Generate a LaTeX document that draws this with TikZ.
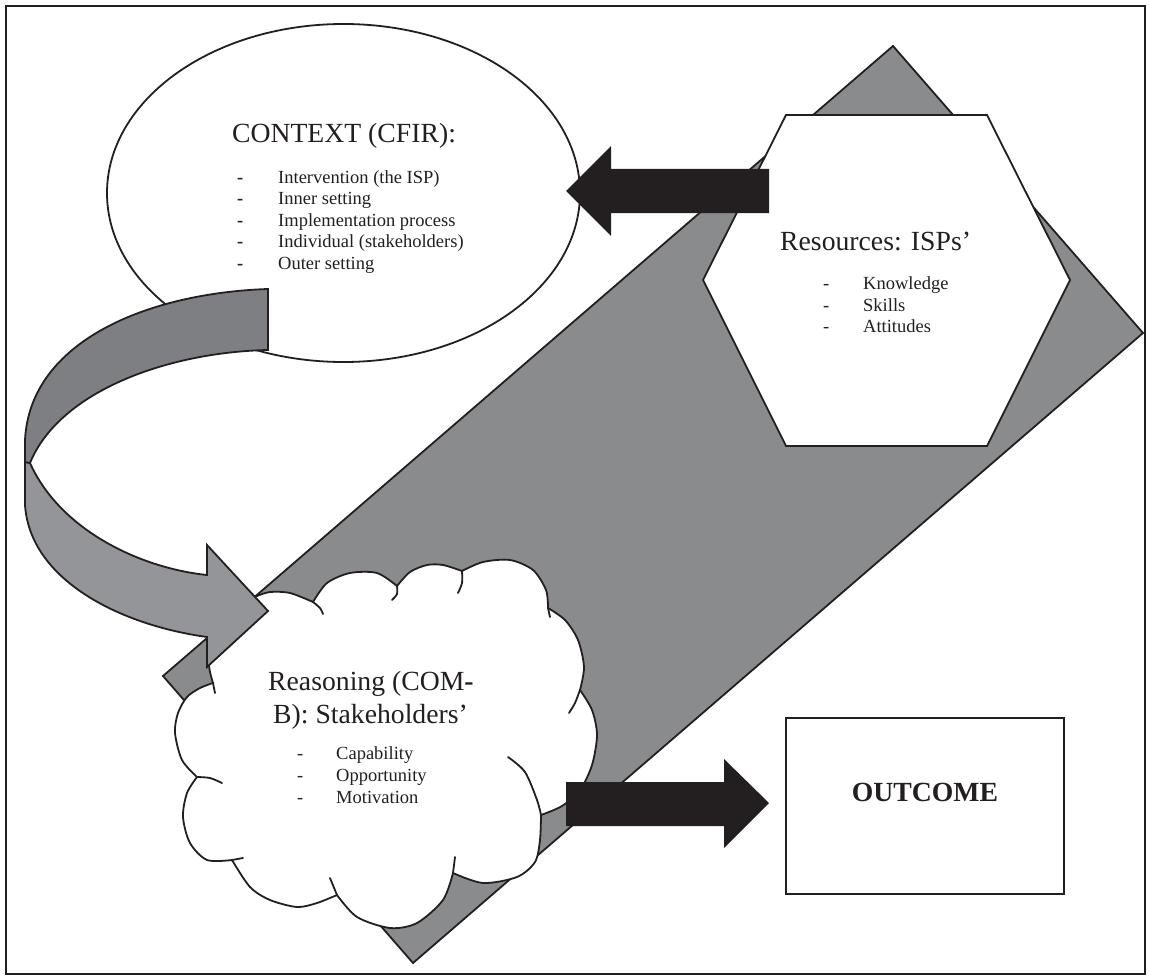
\documentclass[tikz,border=0pt]{standalone}
\usepackage{fontspec}
\setmainfont{Liberation Serif}
\definecolor{dgray}{HTML}{8A8B8D}
\definecolor{adark}{HTML}{7E7F83}
\definecolor{alight}{HTML}{939598}
\definecolor{blk}{HTML}{231F20}
\begin{document}
\begin{tikzpicture}[x=1pt,y=-1pt,line join=miter,
  outl/.style={draw=blk,line width=1.8pt},
  tail/.style={draw=blk,line width=1.8pt,line cap=round},
  headtxt/.style={font=\fontsize{27.7}{33}\selectfont,anchor=base west,inner sep=0pt,text=blk},
  itemtxt/.style={font=\fontsize{18.5}{22}\selectfont,anchor=base west,inner sep=0pt,text=blk},
  blockarrow/.style={fill=blk}]
\fill[white] (0,0) rectangle (1149,979);
\useasboundingbox (0,0) rectangle (1149,979);
\draw[blk,line width=1.5pt] (6,6) rectangle (1145,974);
% grey diamond
\draw[outl,fill=dgray] (893,46) -- (1143,333) -- (413,963) -- (163,676) -- cycle;
% hexagon
\draw[outl,fill=white] (786,115) -- (987,115) -- (1070,280) -- (987,446) -- (786,446) -- (703,280) -- cycle;
% ellipse
\draw[outl,fill=white] (343.5,193) ellipse [x radius=236.5pt,y radius=169pt];
% cloud
\draw[outl,fill=white]
  plot[smooth] coordinates {(257,596) (270,592) (290,593) (313,602)}
  -- plot[smooth] coordinates {(313,602) (327,583) (350,573) (377,573) (397,586)}
  -- plot[smooth] coordinates {(397,586) (410,572) (427,565) (443,565) (462,571)}
  -- plot[smooth] coordinates {(462,571) (483,562) (510,560) (533,570) (546,590) (548,608)}
  -- plot[smooth] coordinates {(548,608) (565,620) (578,640) (584,667) (580,690)}
  -- plot[smooth] coordinates {(580,690) (592,710) (597,735) (592,765) (580,790) (562,806) (541,815)}
  -- plot[smooth] coordinates {(541,815) (540,840) (535,862) (517,877) (483,883) (453,873)}
  -- plot[smooth] coordinates {(453,873) (443,900) (417,923) (390,928) (357,917) (337,895)}
  -- plot[smooth] coordinates {(337,895) (317,903) (297,907) (270,900) (250,887) (232,860)}
  -- plot[smooth] coordinates {(232,860) (207,860) (190,843) (183,817) (187,793) (197,777)}
  -- plot[smooth] coordinates {(197,777) (182,760) (175,733) (178,713) (187,697) (200,688) (213,683)}
  -- plot[smooth] coordinates {(213,683) (209,665) (212,640) (225,615) (240,600) (257,596)}
  -- cycle;
\draw[tail] plot[smooth] coordinates {(313,602) (320,608) (323,614)};
\draw[tail] plot[smooth] coordinates {(397,586) (397,594) (392,600)};
\draw[tail] plot[smooth] coordinates {(462,571) (462,583) (458,593)};
\draw[tail] plot[smooth] coordinates {(548,608) (550,617)};
\draw[tail] plot[smooth] coordinates {(580,690) (575,703) (569,713)};
\draw[tail] plot[smooth] coordinates {(508,757) (525,772) (537,800) (541,815)};
\draw[tail] plot[smooth] coordinates {(455,857) (453,873)};
\draw[tail] plot[smooth] coordinates {(330,878) (337,895)};
\draw[tail] plot[smooth] coordinates {(232,860) (243,858)};
\draw[tail] plot[smooth] coordinates {(197,777) (210,778) (222,783)};
\draw[tail] plot[smooth] coordinates {(213,683) (215,693)};
% curved arrow, lower (light) part
\draw[outl,fill=alight] (30,463) .. controls (60,530) and (140,568) .. (207,575)
  -- (207,545) -- (268,611) -- (207,667) -- (207,637)
  .. controls (120,625) and (30,580) .. (25,505) -- (25,462) -- cycle;
% curved arrow, upper (dark) part
\draw[outl,fill=adark] (268,289) .. controls (150,293) and (30,340) .. (25,440)
  -- (25,462) -- (30,463) .. controls (60,390) and (170,352) .. (268,350) -- cycle;
% black block arrows
\fill[blockarrow] (769,169) -- (611,169) -- (611,146) -- (566,191) -- (611,236) -- (611,213) -- (769,213) -- cycle;
\fill[blockarrow] (566,782) -- (724,782) -- (724,759) -- (769,803) -- (724,848) -- (724,826) -- (566,826) -- cycle;
% outcome box
\node[draw=blk,line width=1.8pt,fill=white,minimum width=278pt,minimum height=176pt,inner sep=0pt] (outbox) at (925,806) {};
\node[font=\fontsize{27.7}{33}\selectfont\bfseries,anchor=base,inner sep=0pt,text=blk] (outtxt) at (925,801) {OUTCOME};
% context texts
\node[headtxt,anchor=base] (ctxh) at (344,143) {CONTEXT (CFIR):};
\node[itemtxt] (cd1) at (237,183) {\bfseries -};
\node[itemtxt] (cd2) at (237,204.5) {\bfseries -};
\node[itemtxt] (cd3) at (237,226) {\bfseries -};
\node[itemtxt] (cd4) at (237,247.5) {\bfseries -};
\node[itemtxt] (cd5) at (237,269) {\bfseries -};
\node[itemtxt] (ct1) at (278,183) {Intervention (the ISP)};
\node[itemtxt] (ct2) at (278,204.5) {Inner setting};
\node[itemtxt] (ct3) at (278,226) {Implementation process};
\node[itemtxt] (ct4) at (278,247.5) {Individual (stakeholders)};
\node[itemtxt] (ct5) at (278,269) {Outer setting};
% resources texts
\node[headtxt] (resh) at (780,250) {Resources: ISPs’};
\node[itemtxt] (rd1) at (823,289) {-};
\node[itemtxt] (rd2) at (823,311) {-};
\node[itemtxt] (rd3) at (823,332) {-};
\node[itemtxt] (rt1) at (863,289) {Knowledge};
\node[itemtxt] (rt2) at (863,311) {Skills};
\node[itemtxt] (rt3) at (863,332) {Attitudes};
% reasoning texts
\node[headtxt] (reah1) at (268,690) {Reasoning (COM\textbf{-}};
\node[headtxt] (reah2) at (273,723) {B): Stakeholders’};
\node[itemtxt] (ed1) at (297,759) {-};
\node[itemtxt] (ed2) at (297,781) {-};
\node[itemtxt] (ed3) at (297,803) {-};
\node[itemtxt] (et1) at (336,759) {Capability};
\node[itemtxt] (et2) at (336,781) {Opportunity};
\node[itemtxt] (et3) at (336,803) {Motivation};
\end{tikzpicture}
\end{document}
